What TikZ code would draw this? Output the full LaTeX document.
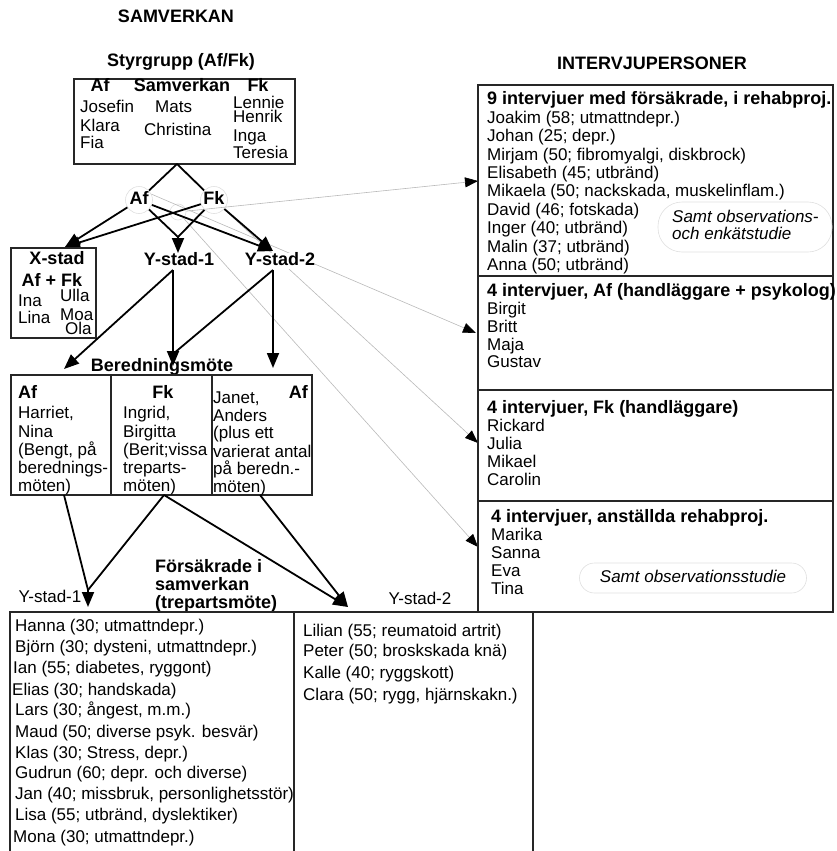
\documentclass[tikz,border=0pt]{standalone}
\usepackage{fontspec}
\setmainfont{Liberation Sans}
\usetikzlibrary{arrows.meta}
\tikzset{
  reg/.style={inner sep=0pt, text height=12pt, text depth=3.5pt, font=\fontsize{17}{18}\selectfont},
  lt/.style={reg, anchor=west},
  bld/.style={inner sep=0pt, text height=12.5pt, text depth=3.5pt, font=\fontsize{18}{19}\selectfont\bfseries},
  blt/.style={bld, anchor=west},
  itl/.style={reg, anchor=west, font=\fontsize{17}{18}\selectfont\itshape},
  boxline/.style={draw=black!85, line width=1.3pt},
  thickarrow/.style={line width=1.8pt, -{Triangle[length=15pt,width=12pt]}},
  thickline/.style={line width=1.8pt},
  grayarrow/.style={draw=gray!55, line width=0.6pt, -{Triangle[length=13pt,width=10pt,color=black]}},
  faint/.style={draw=gray!25, line width=0.6pt},
}
\begin{document}
\begin{tikzpicture}[x=1pt,y=-1pt]
\useasboundingbox (0,0) rectangle (836,851);

% titles
\node[bld] (samv) at (176,18) {SAMVERKAN};
\node[bld] (styr) at (181,62) {Styrgrupp (Af/Fk)};
\node[bld] (intv) at (652,65) {INTERVJUPERSONER};

% Styrgrupp box
\node[boxline, inner sep=0pt, minimum width=221pt, minimum height=85pt] (sty) at (184.5,121.5) {};
\node[bld] (s-af) at (100,87) {Af};
\node[bld] (s-sv) at (182,87) {Samverkan};
\node[bld] (s-fk) at (258,87) {Fk};
\node[lt] (s1) at (80,108) {Josefin};
\node[lt] (s2) at (80,127) {Klara};
\node[lt] (s3) at (80,144) {Fia};
\node[lt] (s4) at (155,108) {Mats};
\node[lt] (s5) at (144,131) {Christina};
\node[lt] (s6) at (233,104) {Lennie};
\node[lt] (s7) at (233,118) {Henrik};
\node[lt] (s8) at (233,137) {Inga};
\node[lt] (s9) at (233,154) {Teresia};
\coordinate (apex) at (177,164);

% Af / Fk nodes
\node[bld, circle, faint, minimum size=27pt] (af) at (139,200) {Af};
\node[bld, circle, faint, minimum size=27pt] (fk) at (214,200) {Fk};
\node[circle, faint, inner sep=0pt, minimum size=16pt] (jc) at (178,212) {};

% coordinates
\coordinate (xtip) at (65,247);
\coordinate (y1m) at (178,237);
\coordinate (y1tip) at (178,253);
\coordinate (y2tip) at (273,251);
\coordinate (b1tip) at (478,181);
\coordinate (b2tip) at (476,333);
\coordinate (b3tip) at (478,443);
\coordinate (b4tip) at (478,547);

% gray connectors to interview boxes
\draw[grayarrow] (jc) -- (b1tip);
\draw[grayarrow] (af.25) -- (b2tip);
\draw[grayarrow] (fk) -- (b3tip);
\draw[grayarrow] (jc) -- (b4tip);

% black connectors
\draw[thickline] (apex) -- (af);
\draw[thickline] (apex) -- (fk);
\draw[thickarrow] (af) -- (xtip);
\draw[thickarrow] (fk) -- (xtip);
\draw[thickline] (af) -- (y1m);
\draw[thickline] (fk) -- (y1m);
\draw[thickarrow] (y1m) -- (y1tip);
\draw[thickarrow] (af) -- (y2tip);
\draw[thickarrow] (fk) -- (y2tip);

% X-stad box
\node[boxline, inner sep=0pt, minimum width=85pt, minimum height=90pt] (xst) at (53.5,293) {};
\node[bld] (x-t) at (57,260) {X-stad};
\node[bld] (x-af) at (52,282) {Af + Fk};
\node[lt] (x1) at (18,302) {Ina};
\node[lt] (x2) at (18,319) {Lina};
\node[lt] (x3) at (60,297) {Ulla};
\node[lt] (x4) at (60,316) {Moa};
\node[lt] (x5) at (65,330) {Ola};

% Y-stad labels
\node[bld, fill=white] (ys1) at (179,261) {Y-stad-1};
\node[bld, fill=white] (ys2) at (280,261) {Y-stad-2};
\coordinate (y1o) at (173,270);
\coordinate (y2o) at (273,270);
\coordinate (bt1) at (64,369);
\coordinate (bt2) at (173,366);
\coordinate (bm) at (173,354);
\coordinate (bt3) at (273,368);
\draw[thickarrow] (y1o) -- (bt1);
\draw[thickarrow] (y1o) -- (bt2);
\draw[thickline] (y2o) -- (bm);
\draw[thickarrow] (y2o) -- (bt3);

% Beredningsmote box
\node[bld] (ber) at (162,367) {Beredningsmöte};
\node[boxline, inner sep=0pt, minimum width=301pt, minimum height=120pt] (bered) at (161.5,435) {};
\draw[boxline] (111,375) -- (111,495);
\draw[boxline] (212,375) -- (212,495);
\node[blt] (c1h) at (18,394) {Af};
\node[lt] (c1a) at (18,414) {Harriet,};
\node[lt] (c1b) at (18,433) {Nina};
\node[lt] (c1c) at (18,451) {(Bengt, på};
\node[lt] (c1d) at (18,469) {berednings-};
\node[lt] (c1e) at (18,487) {möten)};
\node[bld] (c2h) at (163,394) {Fk};
\node[lt] (c2a) at (123,414) {Ingrid,};
\node[lt] (c2b) at (123,433) {Birgitta};
\node[lt] (c2c) at (123,451) {(Berit;vissa};
\node[lt] (c2d) at (123,469) {treparts-};
\node[lt] (c2e) at (123,487) {möten)};
\node[bld, anchor=east] (c3h) at (308,394) {Af};
\node[lt] (c3a) at (213,399) {Janet,};
\node[lt] (c3b) at (213,417) {Anders};
\node[lt] (c3c) at (213,434) {(plus ett};
\node[lt] (c3d) at (213,453) {varierat antal};
\node[lt] (c3e) at (213,470) {på beredn.-};
\node[lt] (c3f) at (213,488) {möten)};

% arrows to bottom
\coordinate (cb1) at (64,495);
\coordinate (cb2) at (164,495);
\coordinate (cb3) at (260,495);
\coordinate (lmid) at (88,590);
\coordinate (ltip) at (88,607);
\coordinate (rtip) at (348,607);
\draw[thickline] (cb1) -- (lmid);
\draw[thickline] (cb2) -- (lmid);
\draw[thickarrow] (lmid) -- (ltip);
\draw[thickarrow] (cb2) -- (rtip);
\draw[thickarrow] (cb3) -- (rtip);

% bottom labels
\node[reg] (yl1) at (50,598) {Y-stad-1};
\node[reg] (yl2) at (420,600) {Y-stad-2};
\node[blt] (fs1) at (155,568) {Försäkrade i};
\node[blt] (fs2) at (155,586) {samverkan};
\node[blt] (fs3) at (155,604) {(trepartsmöte)};

% bottom boxes
\draw[boxline] (10,851) -- (10,612) -- (533,612) -- (533,851);
\draw[boxline] (294,612) -- (294,851);
\node[lt] (l1) at (15,627) {Hanna (30; utmattndepr.)};
\node[lt] (l2) at (15,648) {Björn (30; dysteni, utmattndepr.)};
\node[lt] (l3) at (13,669) {Ian (55; diabetes, ryggont)};
\node[lt] (l4) at (12,691) {Elias (30; handskada)};
\node[lt] (l5) at (15,711) {Lars (30; ångest, m.m.)};
\node[lt] (l6) at (15,733) {Maud (50; diverse psyk. besvär)};
\node[lt] (l7) at (15,754) {Klas (30; Stress, depr.)};
\node[lt] (l8) at (15,774) {Gudrun (60; depr. och diverse)};
\node[lt] (l9) at (15,795) {Jan (40; missbruk, personlighetsstör)};
\node[lt] (l10) at (15,816) {Lisa (55; utbränd, dyslektiker)};
\node[lt] (l11) at (13,838) {Mona (30; utmattndepr.)};
\node[lt] (m1) at (303,632) {Lilian (55; reumatoid artrit)};
\node[lt] (m2) at (303,652) {Peter (50; broskskada knä)};
\node[lt] (m3) at (303,674) {Kalle (40; ryggskott)};
\node[lt] (m4) at (303,696) {Clara (50; rygg, hjärnskakn.)};

% interview boxes
\draw[boxline] (478,85) rectangle (833,612);
\draw[boxline] (478,276) -- (833,276);
\draw[boxline] (478,390) -- (833,390);
\draw[boxline] (478,501) -- (833,501);

\node[blt] (h1) at (487,100) {9 intervjuer med försäkrade, i rehabproj.};
\node[lt] (p1) at (487,119) {Joakim (58; utmattndepr.)};
\node[lt] (p2) at (487,137.4) {Johan (25; depr.)};
\node[lt] (p3) at (487,155.8) {Mirjam (50; fibromyalgi, diskbrock)};
\node[lt] (p4) at (487,174.2) {Elisabeth (45; utbränd)};
\node[lt] (p5) at (487,192.6) {Mikaela (50; nackskada, muskelinflam.)};
\node[lt] (p6) at (487,211) {David (46; fotskada)};
\node[lt] (p7) at (487,229.4) {Inger (40; utbränd)};
\node[lt] (p8) at (487,247.8) {Malin (37; utbränd)};
\node[lt] (p9) at (487,266.2) {Anna (50; utbränd)};
\node[faint, inner sep=0pt, rounded corners=24pt, minimum width=174pt, minimum height=50pt] (e1) at (745,227) {};
\node[itl] (e1a) at (672,218) {Samt observations-};
\node[itl] (e1b) at (672,235) {och enkätstudie};

\node[blt] (h2) at (487,292) {4 intervjuer, Af (handläggare + psykolog)};
\node[lt] (q1) at (487,310) {Birgit};
\node[lt] (q2) at (487,328) {Britt};
\node[lt] (q3) at (487,346) {Maja};
\node[lt] (q4) at (487,363) {Gustav};

\node[blt] (h3) at (487,409) {4 intervjuer, Fk (handläggare)};
\node[lt] (r1) at (487,427) {Rickard};
\node[lt] (r2) at (487,445) {Julia};
\node[lt] (r3) at (487,463) {Mikael};
\node[lt] (r4) at (487,481) {Carolin};

\node[blt] (h4) at (491,518) {4 intervjuer, anställda rehabproj.};
\node[lt] (t1) at (491,536) {Marika};
\node[lt] (t2) at (491,554) {Sanna};
\node[lt] (t3) at (491,572) {Eva};
\node[lt] (t4) at (491,590) {Tina};
\node[faint, inner sep=0pt, rounded corners=15pt, minimum width=227pt, minimum height=30pt] (e2) at (693,578) {};
\node[itl, anchor=center] (e2t) at (693,578) {Samt observationsstudie};
\end{tikzpicture}
\end{document}
